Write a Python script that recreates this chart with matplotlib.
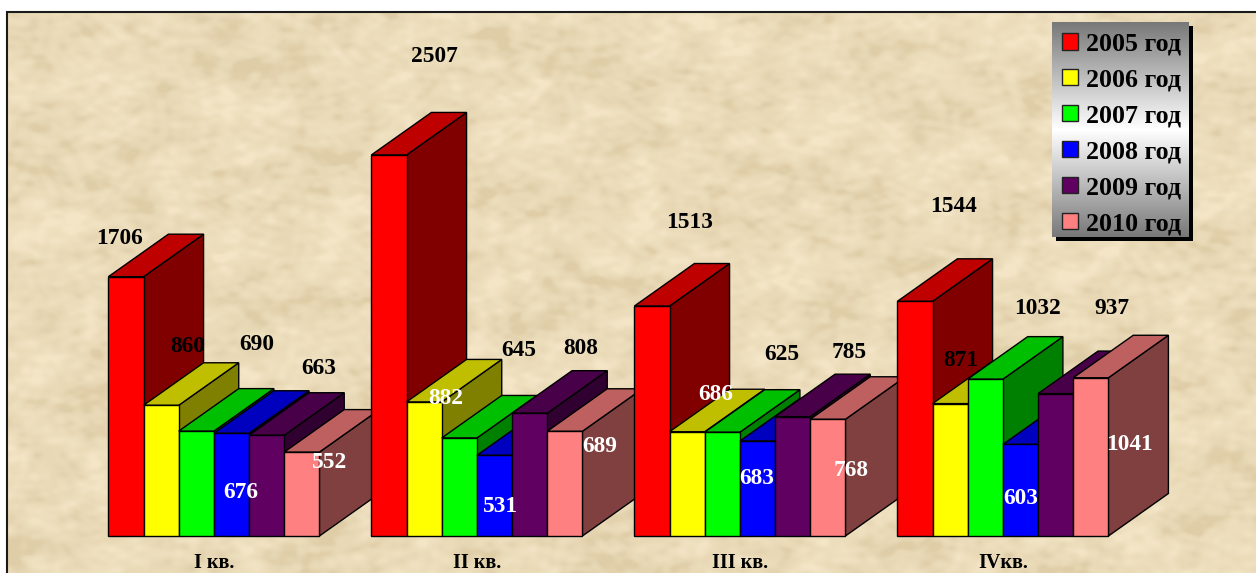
import matplotlib
matplotlib.use("Agg")
import matplotlib.pyplot as plt
from matplotlib.colors import LinearSegmentedColormap, to_rgb
from matplotlib.patches import Patch, Polygon, Rectangle
import numpy as np

W, H = 1256, 573
plt.rcParams['font.family'] = ['Liberation Serif', 'DejaVu Serif']

quarters = ['I кв.', 'II кв.', 'III кв.', 'IVкв.']
years = ['2005 год', '2006 год', '2007 год', '2008 год', '2009 год', '2010 год']
v2005 = [1706, 2507, 1513, 1544]
v2006 = [860, 882, 686, 871]
v2007 = [690, 645, 683, 1032]
v2008 = [676, 531, 625, 603]
v2009 = [663, 808, 785, 937]
v2010 = [552, 689, 768, 1041]
series = [v2005, v2006, v2007, v2008, v2009, v2010]
colors = ['#ff0000', '#ffff00', '#00ff00', '#0000ff', '#600060', '#ff8080']

# label centres in image pixels, same order as series, the original has them hand placed
label_xy = [
    [(120, 239), (434, 56), (690, 222), (953, 206)],
    [(188, 347), (446, 399), (716, 394), (961, 360)],
    [(257, 345), (519, 350), (757, 478), (1037, 308)],
    [(241, 493), (500, 506), (782, 355), (1021, 499)],
    [(319, 368), (581, 349), (849, 353), (1112, 308)],
    [(330, 462), (600, 447), (851, 471), (1129, 444)],
]
label_white = [
    [0, 0, 0, 0],
    [0, 1, 1, 0],
    [0, 0, 1, 0],
    [1, 1, 0, 1],
    [0, 0, 0, 0],
    [1, 1, 1, 1],
]

# geometry
base_y = 536
px_per_unit = 0.152
group_step = 263
first_center = 213.9
bar_w = 35.17 / group_step
depth_x = 60 / group_step
depth_y = 42.5 / px_per_unit

fig = plt.figure(figsize=(W / 100, H / 100), dpi=100, facecolor='white')

# background layer in image pixels
bg = fig.add_axes([0, 0, 1, 1])
bg.set_xlim(0, W)
bg.set_ylim(H, 0)
bg.axis('off')

yy, xx = np.mgrid[12:H, 7:W]
tex = np.zeros(xx.shape, dtype=float)
for k in range(1, 70):
    ang = k * 2.399963
    fr = 0.02 + 0.006 * k
    warp = 7 * np.sin(xx * 0.047 + k) + 7 * np.sin(yy * 0.061 + 2 * k)
    tex += np.sin((xx * np.cos(ang) + 1.6 * yy * np.sin(ang) + warp) * fr + k * k * 1.618) / (1 + k * 0.06)
lo, hi = np.percentile(tex, [1, 99])
tex = np.clip((tex - lo) / (hi - lo), 0, 1)
paper = LinearSegmentedColormap.from_list('paper', ['#dfcda7', '#e8d8b5', '#eddebd', '#f3e5c6'])
bg.imshow(tex, cmap=paper, extent=(7, W, H, 12), aspect='auto', zorder=1, interpolation='bilinear')
bg.set_xlim(0, W)
bg.set_ylim(H, 0)
bg.plot([7, 7, W], [H, 12, 12], color='#1a1a1a', lw=1.5, zorder=2, solid_joinstyle='miter')

# legend box
bg.add_patch(Rectangle((1056, 26), 137, 215, facecolor='black', edgecolor='none', zorder=3))
grad = 1 - np.abs(np.linspace(-1, 1, 216)) * 0.53
bg.imshow(grad[:, None], cmap='gray', vmin=0, vmax=1, extent=(1052, 1189, 237, 22), aspect='auto', zorder=4)
bg.set_xlim(0, W)
bg.set_ylim(H, 0)

# chart layer, y is in data units
ax = fig.add_axes([0, (H - base_y) / H, 1, base_y / H])
ax.patch.set_alpha(0)
ax.set_xlim(-first_center / group_step, (W - first_center) / group_step)
ax.set_ylim(0, base_y / px_per_unit)
for s in ax.spines.values():
    s.set_visible(False)
ax.set_yticks([])
ax.set_xticks(range(len(quarters)))
ax.set_xticklabels(quarters, fontsize=14.5, fontweight='bold')
ax.tick_params(axis='x', length=0, pad=12.2)


def shade(col, f):
    return tuple(c * f for c in to_rgb(col))


z = 5
n = len(series)
for q in range(len(quarters)):
    for i in range(n):
        val = series[i][q]
        left = q + (i - n / 2) * bar_w
        right = left + bar_w
        # side and top first, the next bar in the row covers them
        ax.add_patch(Polygon([(right, 0), (right + depth_x, depth_y), (right + depth_x, val + depth_y), (right, val)],
                             facecolor=shade(colors[i], 0.5), edgecolor='black', lw=1.0, zorder=z, clip_on=False))
        ax.add_patch(Polygon([(left, val), (left + depth_x, val + depth_y), (right + depth_x, val + depth_y), (right, val)],
                             facecolor=shade(colors[i], 0.75), edgecolor='black', lw=1.0, zorder=z, clip_on=False))
        ax.bar(left, val, width=bar_w, align='edge', color=colors[i], edgecolor='black', lw=1.0, zorder=z, clip_on=False)
        z += 1

for i in range(n):
    for q in range(len(quarters)):
        ax.text(label_xy[i][q][0], label_xy[i][q][1], str(series[i][q]), transform=bg.transData,
                ha='center', va='center', fontsize=16.8, fontweight='bold',
                color='white' if label_white[i][q] else 'black', zorder=500)

handles = [Patch(facecolor=c, edgecolor='#222222', lw=1) for c in colors]
leg = ax.legend(handles, years, loc='upper left', bbox_to_anchor=(1059, 30), bbox_transform=bg.transData,
                frameon=False, prop={'size': 18.7, 'weight': 'bold'}, borderpad=0.1, borderaxespad=0,
                labelspacing=0.5, handlelength=0.62, handleheight=0.58, handletextpad=0.31)
leg.set_zorder(600)

fig.savefig('out.png', dpi=100)
